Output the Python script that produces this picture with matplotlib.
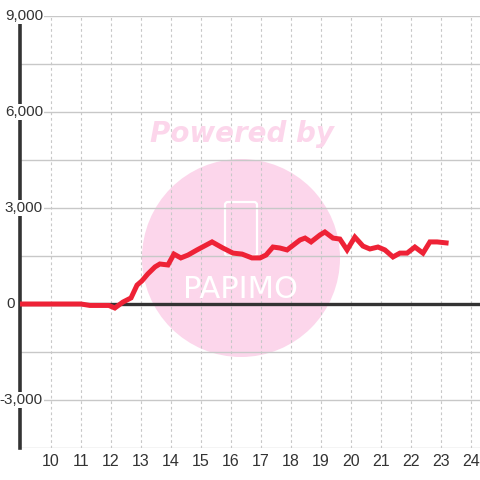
import matplotlib
matplotlib.use("Agg")
import matplotlib.pyplot as plt
from matplotlib.patches import Circle, FancyBboxPatch
import numpy as np

# series (hour of day, value)
hours = [9.0, 11.0, 11.3, 11.93, 12.13, 12.4, 12.67, 12.87, 13.03, 13.23,
         13.47, 13.63, 13.9, 14.1, 14.33, 14.57, 14.87, 15.37, 15.73, 16.07,
         16.37, 16.7, 16.97, 17.17, 17.4, 17.63, 17.87, 18.3, 18.47, 18.67,
         18.97, 19.13, 19.4, 19.63, 19.87, 20.13, 20.4, 20.63, 20.9, 21.13,
         21.4, 21.63, 21.87, 22.13, 22.4, 22.63, 22.87, 23.17]
values = [0, 0, -45, -45, -125, 60, 190, 590, 720, 940,
          1160, 1250, 1220, 1560, 1440, 1530, 1690, 1940, 1750, 1590,
          1560, 1440, 1440, 1530, 1780, 1750, 1690, 2000, 2060, 1940,
          2160, 2250, 2060, 2030, 1690, 2090, 1810, 1720, 1780, 1690,
          1470, 1590, 1590, 1780, 1590, 1940, 1940, 1910]

x_ticks = list(range(10, 25))
y_ticks = [-3000, 0, 3000, 6000, 9000]
y_tick_labels = ['-3,000', '0', '3,000', '6,000', '9,000']

W = 480
fig = plt.figure(figsize=(4.8, 4.8), dpi=100)
ax = fig.add_axes([20 / W, 32 / W, 460 / W, 432 / W])
ax.set_xlim(8.97, 24.3)
ax.set_ylim(-4500, 9000)
ax.patch.set_visible(False)

# watermark
pink = '#fcd6eb'
ax.add_patch(Circle((241 / W, 1 - 258 / W), 99 / W, transform=fig.transFigure,
                    facecolor=pink, edgecolor='none', zorder=0.1))
ax.add_patch(FancyBboxPatch((225 / W, 1 - 256 / W), 32 / W, 54 / W,
                            boxstyle='round,pad=0,rounding_size=0.006',
                            transform=fig.transFigure, facecolor='none',
                            edgecolor='white', lw=1.6, zorder=0.2))
fig.text(241 / W, 1 - 289 / W, 'PAPIMO', color='white', fontsize=22,
         family='DejaVu Sans', ha='center', va='center', zorder=0.2)
fig.text(242 / W, 1 - 134 / W, 'Powered by', color=pink, fontsize=20,
         fontweight='bold', style='italic', family='DejaVu Sans',
         ha='center', va='center')

# grid
for v in np.arange(-4500, 9001, 1500):
    ax.axhline(v, color='#c8c8c8', lw=1, zorder=0.5)
for h in x_ticks:
    ax.axvline(h, color='#c8c8c8', lw=0.8, ls=(0, (2.5, 2.5)), zorder=0.5)

ax.axhline(0, color='#333333', lw=2.4, zorder=1)
ax.plot(hours, values, color='#ee2236', lw=3.6, solid_joinstyle='miter', zorder=3)

for s in ['top', 'right', 'bottom']:
    ax.spines[s].set_visible(False)
ax.spines['left'].set_color('#333333')
ax.spines['left'].set_linewidth(2.6)
ax.spines['left'].set_bounds(-4500, 8750)

ax.set_xticks(x_ticks)
ax.set_xticklabels([str(t) for t in x_ticks])
ax.set_yticks([])
ax.tick_params(axis='x', length=0, pad=4, labelsize=11.5, labelcolor='#333333')
for lab in ax.get_xticklabels():
    lab.set_family('Liberation Sans')

# y labels sit over the spine; the zero label is pushed left of it
for v, t in zip(y_ticks, y_tick_labels):
    right_px = 15 if v == 0 else 43
    ax.text((right_px - 20) / 460, v, t, transform=ax.get_yaxis_transform(),
            ha='right', va='center', fontsize=11, color='#333333',
            family='Liberation Sans', zorder=4, clip_on=False,
            bbox=dict(facecolor='white', edgecolor='none', pad=1))

fig.savefig('out.png', dpi=100, facecolor='white')
